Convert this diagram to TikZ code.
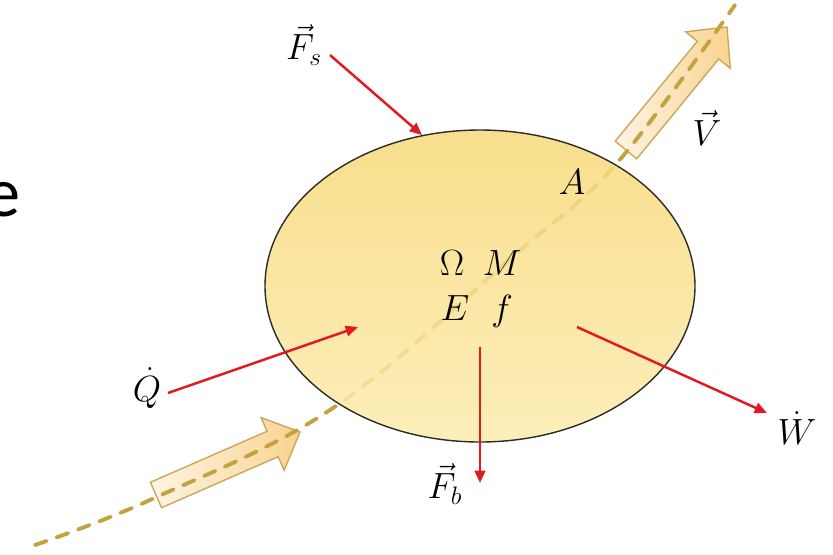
\documentclass[tikz,border=0pt]{standalone}
\usepackage{amsmath}
\usepackage{fontspec}
\newfontfamily\slidefont{Carlito}
\usetikzlibrary{arrows.meta, calc}
\definecolor{cvred}{HTML}{E5171F}
\definecolor{cvgold}{HTML}{C4A23E}
\definecolor{cvedge}{HTML}{2B2B2B}
\definecolor{cvtop}{HTML}{F7D878}
\definecolor{cvbottom}{HTML}{FCECAE}
\definecolor{fatlight}{HTML}{FDF3E1}
\definecolor{fatdark}{HTML}{F8CF82}
\definecolor{fatedge}{HTML}{CDA65C}
% fat flow arrow from tail #1 to tip #2
\newcommand{\flowarrow}[2]{%
  \path ($(#2)!17pt!(#1)$) coordinate (hb);
  \draw[fat] ($(#1)!7.9pt!90:(#2)$) -- ($(hb)!7.9pt!-90:(#1)$) -- ($(hb)!16.4pt!-90:(#1)$) -- (#2)
    -- ($(hb)!16.4pt!90:(#1)$) -- ($(hb)!7.9pt!90:(#1)$) -- ($(#1)!7.9pt!-90:(#2)$) -- cycle;}

\begin{document}
\begin{tikzpicture}[
  x=0.02cm, y=-0.02cm,
  lbl/.style={inner sep=1pt, font=\fontsize{20}{24}\selectfont},
  force/.style={-{Triangle[length=7pt,width=6pt]}, line width=1.4pt, cvred},
  stream/.style={cvgold, line width=2.2pt, dash pattern=on 7pt off 6pt, line cap=round},
  fat/.style={draw=fatedge, line width=0.8pt, left color=fatlight, right color=fatdark, fill opacity=0.9},
  cv/.style={top color=cvtop, bottom color=cvbottom, fill opacity=0.85}
]
\useasboundingbox (0,0) rectangle (833,555);

% flow in and out
\coordinate (intail) at (156,495);
\coordinate (intip) at (300,432);
\coordinate (vtail) at (626,150);
\coordinate (vtip) at (727,27);
\flowarrow{intail}{intip}
\flowarrow{vtail}{vtip}
\draw[stream] plot[smooth, tension=0.6] coordinates {(35,545) (150,500) (333,408) (517,253) (617,163) (735,5)};

% control volume
\path[cv] (480,286) ellipse [x radius=215, y radius=156];
\draw[cvedge, line width=0.8pt] (480,286) ellipse [x radius=215, y radius=156];

% labels
\node[anchor=base east, inner sep=0pt, font=\slidefont\fontsize{40}{48}\selectfont] (cut) at (21,216) {e};
\node[lbl] (Fs) at (304,45) {$\vec{F}_{s}$};
\node[lbl] (V) at (707,128) {$\vec{V}$};
\node[lbl] (A) at (572,182) {$A$};
\node[lbl, anchor=base] (Om) at (452,275) {$\Omega$};
\node[lbl, anchor=base] (M) at (502,275) {$M$};
\node[lbl, anchor=base] (E) at (455,320) {$E$};
\node[lbl, anchor=base] (f) at (502,320) {$f$};
\node[lbl] (Q) at (147,388) {$\dot{Q}$};
\node[lbl] (W) at (797,428) {$\dot{W}$};
\node[lbl] (Fb) at (445,484) {$\vec{F}_{b}$};

% forces, heat and work
\coordinate (fsfrom) at (330,55);
\coordinate (fsto) at (422,135);
\coordinate (qfrom) at (168,393);
\coordinate (qto) at (358,327);
\coordinate (fbfrom) at (480,347);
\coordinate (fbto) at (480,483);
\coordinate (wfrom) at (577,327);
\coordinate (wto) at (767,413);
\draw[force] (fsfrom) -- (fsto);
\draw[force] (qfrom) -- (qto);
\draw[force] (fbfrom) -- (fbto);
\draw[force] (wfrom) -- (wto);
\end{tikzpicture}
\end{document}
